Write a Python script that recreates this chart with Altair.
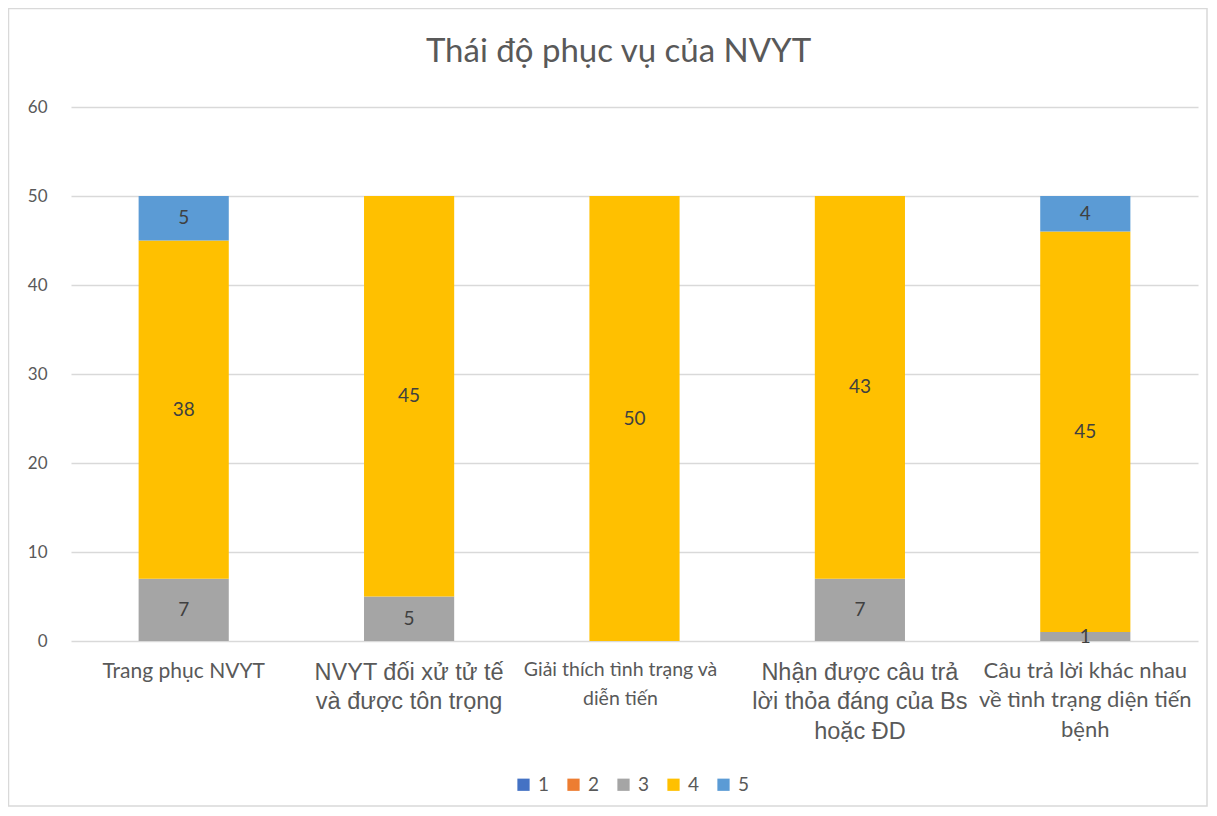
import altair as alt
import pandas as pd

categories = [
    "Trang phục NVYT",
    "NVYT đối xử tử tế|và được tôn trọng",
    "Giải thích tình trạng và|diễn tiến",
    "Nhận được câu trả|lời thỏa đáng của Bs|hoặc ĐD",
    "Câu trả lời khác nhau|về tình trạng diện tiến|bệnh",
]
series_names = ["1", "2", "3", "4", "5"]
s1 = [0, 0, 0, 0, 0]
s2 = [0, 0, 0, 0, 0]
s3 = [7, 5, 0, 7, 1]
s4 = [38, 45, 50, 43, 45]
s5 = [5, 0, 0, 0, 4]
colors = ["#4472C4", "#ED7D31", "#A5A5A5", "#FFC000", "#5B9BD5"]
y_ticks = [0, 10, 20, 30, 40, 50, 60]
title_text = "Thái độ phục vụ của NVYT"

rows = []
for name, vals in zip(series_names, [s1, s2, s3, s4, s5]):
    for c, v in zip(categories, vals):
        rows.append({"category": c, "series": name, "value": v})
df = pd.DataFrame(rows)

W, H = 1127, 534
PL, PT, PR, PB = 63, 99, 10, 166
FONT = "Lato"
TXT = "#595959"


def is_cat(i):
    return "datum.value == '%s'" % categories[i]


label_size = {
    "condition": [
        {"test": is_cat(0), "value": 21},
        {"test": is_cat(1), "value": 23.5},
        {"test": is_cat(2), "value": 19.5},
        {"test": is_cat(3), "value": 23.5},
    ],
    "value": 22,
}
label_font = {
    "condition": {"test": "(" + is_cat(1) + ") || (" + is_cat(3) + ")", "value": "Liberation Sans"},
    "value": FONT,
}
label_offset = {"condition": {"test": is_cat(2), "value": -14}, "value": 0}

base = alt.Chart(df).transform_stack(
    stack="value", groupby=["category"], as_=["y0", "y1"],
    sort=[alt.SortField("series", order="ascending")]
).transform_calculate(mid="(datum.y0 + datum.y1) / 2")

x_enc = alt.X(
    "category:N", sort=categories, title=None,
    scale=alt.Scale(paddingInner=0.6, paddingOuter=0.3),
    axis=alt.Axis(
        labelExpr="split(datum.label, '|')",
        labelAngle=0, domain=False, ticks=False, grid=False,
        labelPadding=19, labelColor=TXT, labelLineHeight=29.5,
        labelFontSize=label_size, labelFont=label_font, labelOffset=label_offset,
        labelLimit=400, labelBaseline="top",
    ),
)

bars = base.mark_bar().encode(
    x=x_enc,
    y=alt.Y("y0:Q", title=None,
            scale=alt.Scale(domain=[0, 60]),
            axis=alt.Axis(values=y_ticks, domain=False, ticks=False,
                          gridColor="#D9D9D9", gridWidth=1.3,
                          labelColor=TXT, labelFontSize=17, labelFont=FONT,
                          labelPadding=24)),
    y2="y1:Q",
    color=alt.Color("series:N", scale=alt.Scale(domain=series_names, range=colors),
                    legend=alt.Legend(title=None, orient="none", direction="horizontal",
                                      legendX=443, legendY=668,
                                      symbolType="square", symbolSize=150,
                                      symbolStrokeWidth=0,
                                      labelFontSize=19, labelFont=FONT, labelColor=TXT,
                                      columnPadding=14, labelOffset=5)),
)

labels = base.transform_filter("datum.value > 0").mark_text(
    font=FONT, fontSize=19, color="#404040"
).encode(
    x=alt.X("category:N", sort=categories),
    y=alt.Y("mid:Q"),
    text=alt.Text("value:Q"),
)

deco = alt.Chart(alt.Data(values=[{"t": title_text}]))

border = deco.mark_rect(
    fill=None, stroke="#D9D9D9", strokeWidth=1.5
).encode(
    x=alt.value(-PL + 0.5), x2=alt.value(W + PR - 1),
    y=alt.value(-PT + 0.5), y2=alt.value(H + PB - 1),
)

title = deco.mark_text(
    font=FONT, fontSize=33, color=TXT, align="center", baseline="middle"
).encode(
    text="t:N", x=alt.value(W / 2 - 16), y=alt.value(-55),
)

chart = alt.layer(border, title, bars, labels).properties(
    width=W, height=H,
    padding={"left": PL, "top": PT, "right": PR, "bottom": PB},
    autosize=alt.AutoSizeParams(type="none"),
).configure_view(stroke=None)

chart.save("out.html", embed_options={"renderer": "svg", "actions": False})
